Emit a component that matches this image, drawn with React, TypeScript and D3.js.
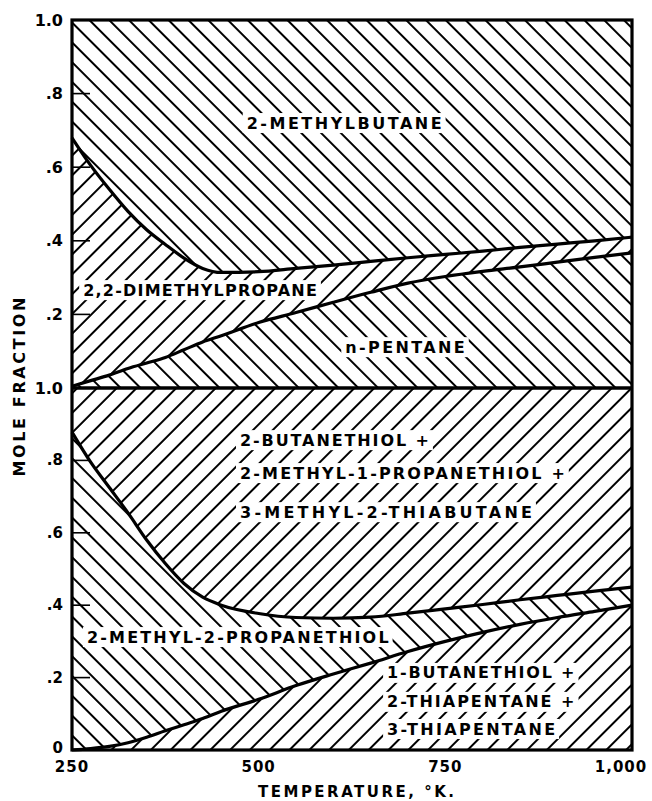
import React from 'react';
import * as d3 from 'd3';

// temperatures (°K) at which the curves were read
const temps = [250, 275, 300, 325, 350, 375, 400, 425, 450, 500, 550, 600, 650, 700, 750, 800, 850, 900, 950, 1000];

// upper panel, cumulative mole fraction from the bottom
const nPentane = [0.005, 0.02, 0.035, 0.053, 0.068, 0.083, 0.104, 0.125, 0.142, 0.178, 0.205, 0.233, 0.26, 0.285, 0.303, 0.317, 0.329, 0.342, 0.355, 0.367];
const plusDimethylpropane = [0.68, 0.605, 0.54, 0.48, 0.43, 0.39, 0.353, 0.325, 0.314, 0.316, 0.325, 0.334, 0.344, 0.354, 0.363, 0.372, 0.382, 0.391, 0.4, 0.41];

// lower panel, cumulative mole fraction from the bottom
const butanethiolGroup = [0.0, 0.004, 0.01, 0.02, 0.035, 0.053, 0.07, 0.087, 0.107, 0.14, 0.178, 0.21, 0.24, 0.272, 0.3, 0.325, 0.347, 0.366, 0.383, 0.4];
const plusPropanethiol = [0.878, 0.795, 0.725, 0.655, 0.58, 0.515, 0.46, 0.422, 0.4, 0.377, 0.366, 0.364, 0.367, 0.378, 0.39, 0.402, 0.415, 0.427, 0.439, 0.45];

const xTicks = [250, 500, 750, 1000];
const xTickLabels = ['250', '500', '750', '1,000'];
const topTicks = [0.2, 0.4, 0.6, 0.8, 1.0];
const bottomTicks = [0, 0.2, 0.4, 0.6, 0.8, 1.0];

// region labels: panel, text, start / end temperature, centre fraction
const labels = [
  { panel: 'top', text: '2-METHYLBUTANE', t0: 484, t1: 745, f: 0.72 },
  { panel: 'top', text: '2,2-DIMETHYLPROPANE', t0: 265, t1: 578, f: 0.266 },
  { panel: 'top', text: 'n-PENTANE', t0: 616, t1: 776, f: 0.111 },
  { panel: 'bottom', text: '2-BUTANETHIOL +', t0: 475, t1: 728, f: 0.856 },
  { panel: 'bottom', text: '2-METHYL-1-PROPANETHIOL +', t0: 475, t1: 910, f: 0.765 },
  { panel: 'bottom', text: '3-METHYL-2-THIABUTANE', t0: 475, t1: 866, f: 0.657 },
  { panel: 'bottom', text: '2-METHYL-2-PROPANETHIOL', t0: 270, t1: 674, f: 0.312 },
  { panel: 'bottom', text: '1-BUTANETHIOL +', t0: 672, t1: 923, f: 0.213 },
  { panel: 'bottom', text: '2-THIAPENTANE +', t0: 672, t1: 923, f: 0.133 },
  { panel: 'bottom', text: '3-THIAPENTANE', t0: 672, t1: 897, f: 0.058 },
];

const W = 652;
const H = 801;
const left = 72;
const right = 632;
const top = 20;
const mid = 388;
const bottom = 750;
const font = '"DejaVu Sans", Verdana, sans-serif';

const x = d3.scaleLinear().domain([250, 1000]).range([left, right]);
const yTop = d3.scaleLinear().domain([0, 1]).range([mid, top]);
const yBot = d3.scaleLinear().domain([0, 1]).range([bottom, mid]);

const fmt = (v: number) => (v === 1 ? '1.0' : v === 0 ? '0' : d3.format('.1f')(v).replace(/^0/, ''));

export default function App() {
  const pts = temps.map((t, i) => ({ t, i }));

  const band = (y: d3.ScaleLinear<number, number>, lo: (i: number) => number, hi: (i: number) => number) =>
    d3.area<{ t: number; i: number }>()
      .x(d => x(d.t))
      .y0(d => y(lo(d.i)))
      .y1(d => y(hi(d.i)))
      .curve(d3.curveMonotoneX)(pts) || '';

  const edge = (y: d3.ScaleLinear<number, number>, vals: number[]) =>
    d3.line<{ t: number; i: number }>()
      .x(d => x(d.t))
      .y(d => y(vals[d.i]))
      .curve(d3.curveMonotoneX)(pts) || '';

  const regions = [
    { d: band(yTop, () => 0, i => nPentane[i]), fill: 'url(#back)' },
    { d: band(yTop, i => nPentane[i], i => plusDimethylpropane[i]), fill: 'url(#fwd)' },
    { d: band(yTop, i => plusDimethylpropane[i], () => 1), fill: 'url(#back)' },
    { d: band(yBot, () => 0, i => butanethiolGroup[i]), fill: 'url(#fwd)' },
    { d: band(yBot, i => butanethiolGroup[i], i => plusPropanethiol[i]), fill: 'url(#back)' },
    { d: band(yBot, i => plusPropanethiol[i], () => 1), fill: 'url(#fwd)' },
  ];

  const edges = [
    edge(yTop, nPentane),
    edge(yTop, plusDimethylpropane),
    edge(yBot, butanethiolGroup),
    edge(yBot, plusPropanethiol),
  ];

  return (
    <svg width={W} height={H} style={{ position: 'absolute', left: 0, top: 0, background: '#fff' }} fontFamily={font}>
      <defs>
        <clipPath id="plot">
          <rect x={left} y={top} width={right - left} height={bottom - top} />
        </clipPath>
        <pattern id="fwd" width={14} height={14} patternUnits="userSpaceOnUse" patternTransform="rotate(45)">
          <line x1={7} y1={-1} x2={7} y2={15} stroke="#000" strokeWidth={2} />
        </pattern>
        <pattern id="back" width={14} height={14} patternUnits="userSpaceOnUse" patternTransform="rotate(-45)">
          <line x1={7} y1={-1} x2={7} y2={15} stroke="#000" strokeWidth={2} />
        </pattern>
      </defs>

      <g clipPath="url(#plot)">
        {regions.map((r, i) => (
          <path key={i} d={r.d} fill={r.fill} stroke="none" />
        ))}
      </g>

      {/* white boxes behind region labels */}
      {labels.map((l, i) => {
        const y = l.panel === 'top' ? yTop : yBot;
        const x0 = x(l.t0);
        const x1 = x(l.t1);
        return <rect key={'b' + i} x={x0 - 4} y={y(l.f) - 10} width={x1 - x0 + 8} height={20} fill="#fff" />;
      })}

      {edges.map((d, i) => (
        <path key={i} d={d} fill="none" stroke="#000" strokeWidth={3.2} strokeLinejoin="round" />
      ))}

      {labels.map((l, i) => {
        const y = l.panel === 'top' ? yTop : yBot;
        const x0 = x(l.t0);
        const x1 = x(l.t1);
        return (
          <text key={'t' + i} x={x0} y={y(l.f)} dominantBaseline="central" fontSize={16} fontWeight="bold"
            textLength={x1 - x0} lengthAdjust="spacing">
            {l.text}
          </text>
        );
      })}

      {/* frame and panel divider */}
      <rect x={left} y={top} width={right - left} height={bottom - top} fill="none" stroke="#000" strokeWidth={3.2} />
      <line x1={left} x2={right} y1={mid} y2={mid} stroke="#000" strokeWidth={3.6} />

      {/* y ticks */}
      {topTicks.map(v => (
        <g key={'tt' + v}>
          {v < 1 && <line x1={left} x2={left + 18} y1={yTop(v)} y2={yTop(v)} stroke="#000" strokeWidth={1.6} />}
          <text x={63} y={yTop(v)} textAnchor="end" dominantBaseline="central" fontSize={16} fontWeight="bold">
            {fmt(v)}
          </text>
        </g>
      ))}
      {bottomTicks.filter(v => v < 1).map(v => (
        <g key={'bt' + v}>
          {v > 0 && <line x1={left} x2={left + 18} y1={yBot(v)} y2={yBot(v)} stroke="#000" strokeWidth={1.6} />}
          <text x={63} y={yBot(v) - (v === 0 ? 2 : 0)} textAnchor="end" dominantBaseline="central" fontSize={15} fontWeight="bold">
            {fmt(v)}
          </text>
        </g>
      ))}
      <text x={63} y={yBot(1)} textAnchor="end" dominantBaseline="central" fontSize={16} fontWeight="bold">
        {fmt(bottomTicks[bottomTicks.length - 1])}
      </text>

      {/* x ticks */}
      {xTicks.map((t, i) => (
        <text key={'x' + t} x={x(t) + (t === 1000 ? -11 : 0)} y={767} textAnchor="middle" dominantBaseline="central"
          fontSize={15} fontWeight="bold" letterSpacing={1}>
          {xTickLabels[i]}
        </text>
      ))}

      <text x={258} y={792} dominantBaseline="central" fontSize={15} fontWeight="bold" textLength={196} lengthAdjust="spacing">
        TEMPERATURE, °K.
      </text>
      <text transform={`translate(19,${(top + bottom) / 2 + 2}) rotate(-90)`} textAnchor="middle" dominantBaseline="central"
        fontSize={16} fontWeight="bold" textLength={179} lengthAdjust="spacing">
        MOLE FRACTION
      </text>
    </svg>
  );
}
